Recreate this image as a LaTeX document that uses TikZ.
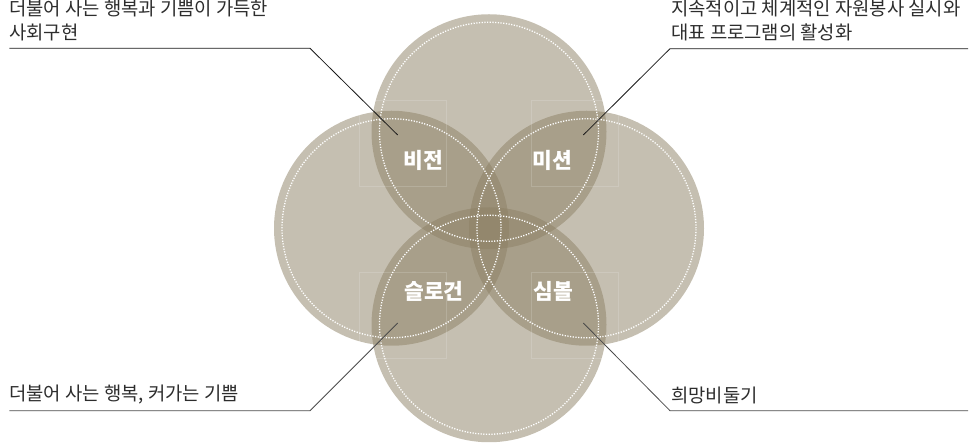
\documentclass[tikz,border=0pt]{standalone}
\usepackage{fontspec}
\setmainfont{Noto Sans CJK KR}
\definecolor{petal}{RGB}{140,128,100}
\definecolor{leadtop}{RGB}{25,25,25}
\definecolor{leadbot}{RGB}{75,75,75}
\definecolor{notetext}{RGB}{45,45,45}
\begin{document}
\begin{tikzpicture}[x=1pt,y=-1pt,
  petalc/.style={circle, fill=petal, fill opacity=0.5, minimum size=235pt, inner sep=0pt, draw=none},
  dotring/.style={draw=white, line width=1.3pt, dash pattern=on 1.2pt off 1.5pt},
  ghostbox/.style={draw=white, draw opacity=0.15, line width=0.6pt},
  lbl/.style={text=white, font=\bfseries\fontsize{21.5}{24}\selectfont, inner sep=0pt},
  note/.style={font=\fontsize{18.8}{24}\selectfont, inner sep=0pt, anchor=base west, text=notetext},
  leadT/.style={draw=leadtop, line width=0.8pt},
  leadB/.style={draw=leadbot, line width=0.8pt}]
\useasboundingbox (0,0) rectangle (970,443);
% four translucent circles
\node[petalc] (ctop) at (489,131.75) {};
\node[petalc] (cleft) at (391.5,228.25) {};
\node[petalc] (cright) at (586.5,228.25) {};
\node[petalc] (cbot) at (489,324.75) {};
% faint boxes around the labels
\draw[ghostbox] (359,100) rectangle (446,186);
\draw[ghostbox] (531,100) rectangle (618,186);
\draw[ghostbox] (359,272) rectangle (446,358);
\draw[ghostbox] (531,272) rectangle (618,358);
% dotted white rings
\draw[dotring] (ctop.center) circle[radius=109.5pt];
\draw[dotring] (cleft.center) circle[radius=109.5pt];
\draw[dotring] (cright.center) circle[radius=109.5pt];
\draw[dotring] (cbot.center) circle[radius=109.5pt];
% labels
\node[lbl] (vision) at (423,160) {비전};
\node[lbl] (mission) at (552,160) {미션};
\node[lbl] (slogan) at (434,291) {슬로건};
\node[lbl] (symbol) at (553,291) {심볼};
% notes
\node[note] (tl1) at (9,16) {더불어 사는 행복과 기쁨이 가득한};
\node[note] (tl2) at (9,39.5) {사회구현};
\node[note] (tr1) at (671,16) {지속적이고 체계적인 자원봉사 실시와};
\node[note] (tr2) at (671,39.5) {대표 프로그램의 활성화};
\node[note] (bl1) at (9,401) {더불어 사는 행복, 커가는 기쁨};
\node[note] (br1) at (671,402.5) {희망비둘기};
% leader lines
\coordinate (tlA) at (9.3,48.3);
\coordinate (tlB) at (310,48.3);
\coordinate (tlC) at (397.7,135);
\coordinate (trA) at (968,48.7);
\coordinate (trB) at (670,48.7);
\coordinate (trC) at (583.3,135);
\coordinate (blA) at (9.3,410.7);
\coordinate (blB) at (310,410.7);
\coordinate (blC) at (397.7,323);
\coordinate (brA) at (968,410.7);
\coordinate (brB) at (670,410.7);
\coordinate (brC) at (583.3,323);
\draw[leadT] (tlA) -- (tlB) -- (tlC);
\draw[leadT] (trA) -- (trB) -- (trC);
\draw[leadB] (blA) -- (blB) -- (blC);
\draw[leadB] (brA) -- (brB) -- (brC);
\end{tikzpicture}
\end{document}
